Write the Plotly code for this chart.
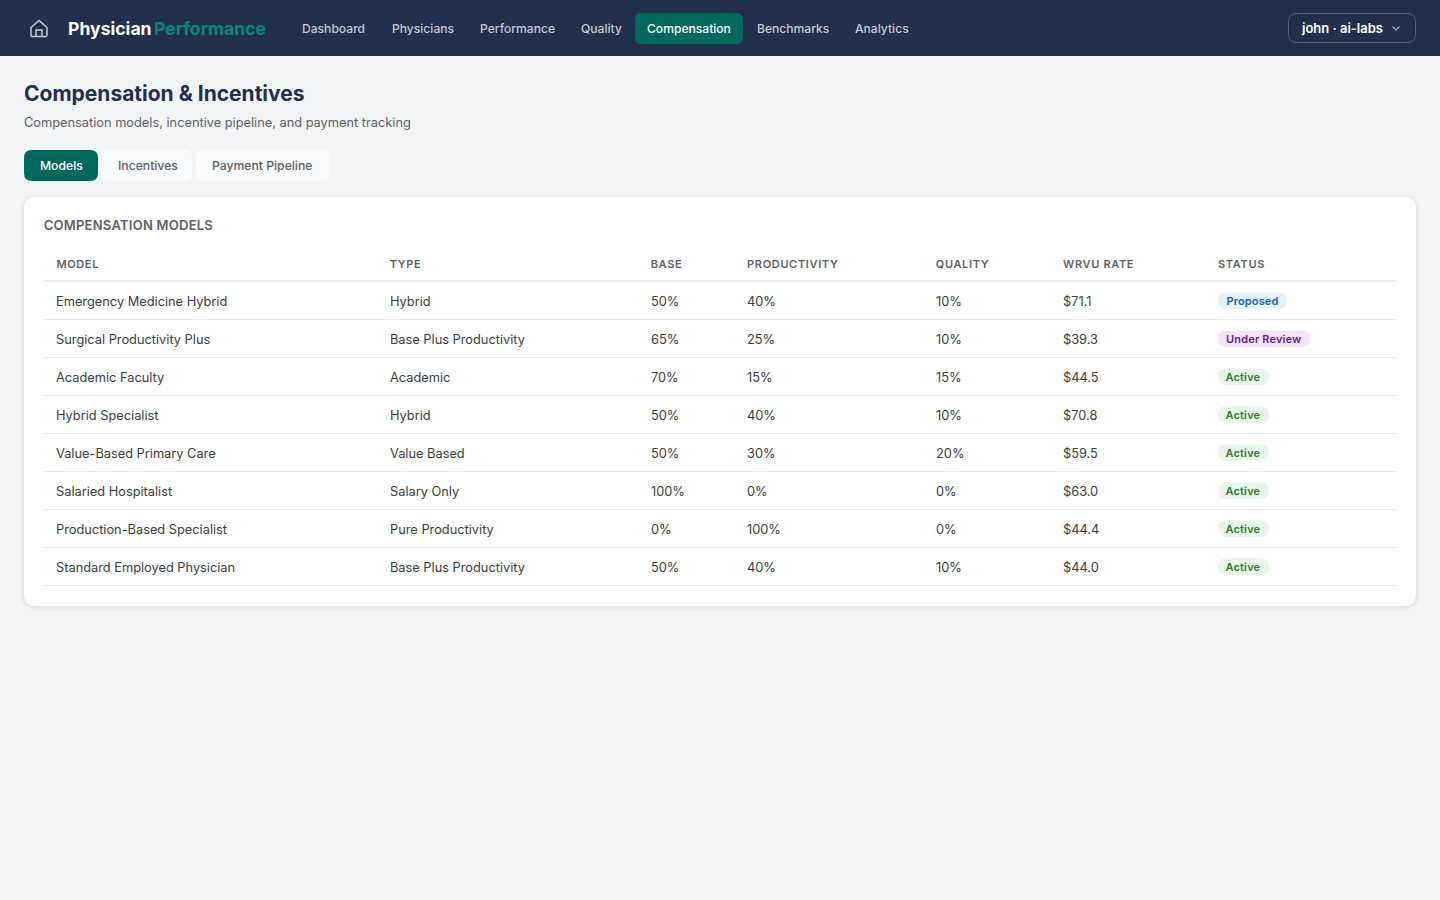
import json
import plotly.graph_objects as go

nav_items = ["Dashboard", "Physicians", "Performance", "Quality", "Compensation", "Benchmarks", "Analytics"]
nav_x = [302, 392, 480, 581, 647, 757, 855]
tabs = ["Models", "Incentives", "Payment Pipeline"]
headers = ["MODEL", "TYPE", "BASE", "PRODUCTIVITY", "QUALITY", "WRVU RATE", "STATUS"]
col_x = [56, 390, 651, 747, 936, 1063, 1218]
models = ["Emergency Medicine Hybrid", "Surgical Productivity Plus", "Academic Faculty", "Hybrid Specialist",
          "Value-Based Primary Care", "Salaried Hospitalist", "Production-Based Specialist", "Standard Employed Physician"]
types = ["Hybrid", "Base Plus Productivity", "Academic", "Hybrid", "Value Based", "Salary Only",
         "Pure Productivity", "Base Plus Productivity"]
base = [50, 65, 70, 50, 50, 100, 0, 50]
productivity = [40, 25, 15, 40, 30, 0, 100, 40]
quality = [10, 10, 15, 10, 20, 0, 0, 10]
wrvu = [71.1, 39.3, 44.5, 70.8, 59.5, 63.0, 44.4, 44.0]
status = ["Proposed", "Under Review", "Active", "Active", "Active", "Active", "Active", "Active"]
status_style = {"Proposed": ("#e3f2fd", "#1565c0", 69), "Under Review": ("#f3e5f5", "#6a1b9a", 92),
                "Active": ("#e8f5e9", "#2e7d32", 51)}

FONT = "Inter"
shapes, ann = [], []
spacing = {}


def rrect(x0, y0, x1, y1, r, fill, line=None, lw=1):
    path = (f"M{x0+r},{y0} L{x1-r},{y0} Q{x1},{y0} {x1},{y0+r} L{x1},{y1-r} Q{x1},{y1} {x1-r},{y1} "
            f"L{x0+r},{y1} Q{x0},{y1} {x0},{y1-r} L{x0},{y0+r} Q{x0},{y0} {x0+r},{y0} Z")
    shapes.append(dict(type="path", path=path, xref="x", yref="y", fillcolor=fill,
                       line=dict(color=line or "rgba(0,0,0,0)", width=lw if line else 0), layer="below"))


def rect(x0, y0, x1, y1, fill):
    shapes.append(dict(type="rect", x0=x0, y0=y0, x1=x1, y1=y1, xref="x", yref="y", fillcolor=fill,
                       line=dict(width=0), layer="below"))


def text(x, y, s, size, color, weight=400, ls=0):
    if ls:
        spacing[s] = ls
    ann.append(dict(x=x + len(s) * ls / 2, y=y, text=s, xref="x", yref="y", xanchor="left", yanchor="middle",
                    showarrow=False, font=dict(family=FONT, size=size, color=color, weight=weight),
                    borderpad=0, borderwidth=0))


# top bar
rect(0, 0, 1440, 56, "#232f4f")
shapes.append(dict(type="path", xref="x", yref="y", layer="above", fillcolor="rgba(0,0,0,0)",
                   line=dict(color="#c6cbd6", width=1.5),
                   path="M31,27.5 L39,20.5 L47,27.5 L47,35 Q47,36.5 45.5,36.5 L32.5,36.5 Q31,36.5 31,35 Z"))
shapes.append(dict(type="path", xref="x", yref="y", layer="above", fillcolor="rgba(0,0,0,0)",
                   line=dict(color="#c6cbd6", width=1.5), path="M36,36.5 L36,30 L42,30 L42,36.5"))
text(68, 28, "Physician", 17.6, "#ffffff", 700)
text(154, 28, "Performance", 17.6, "#00897b", 700)
rrect(635, 13, 743, 44, 6, "#00695c")
for n, x in zip(nav_items, nav_x):
    active = n == "Compensation"
    text(x, 28, n, 12.1, "#ffffff" if active else "#c3c7d0", 500)
rrect(1288.5, 13.5, 1415.5, 42.5, 8, "rgba(0,0,0,0)", "#5a6478", 1)
text(1301, 28, "john · ai-labs", 13, "#ffffff", 600)
shapes.append(dict(type="path", xref="x", yref="y", layer="above", fillcolor="rgba(0,0,0,0)",
                   line=dict(color="#aeb3bf", width=1.2), path="M1392.5,26.5 L1396,30 L1399.5,26.5"))

# heading
text(24, 93, "Compensation & Incentives", 21, "#232f4f", 700)
text(24, 122, "Compensation models, incentive pipeline, and payment tracking", 12.8, "#5f6368")

# tabs
tab_box = [(24, 98), (102, 192), (196, 330)]
tab_text_x = [40, 118, 212]
for i, (t, (a, b), tx) in enumerate(zip(tabs, tab_box, tab_text_x)):
    rrect(a, 150, b, 181, 8, "#00695c" if i == 0 else "#f8f9fa")
    text(tx, 165, t, 12.2, "#ffffff" if i == 0 else "#5f6368", 500)

# card with soft shadow
for g, op in [(4, .008), (3, .012), (2, .016), (1, .02)]:
    rrect(24 - g, 197 - g + 1, 1416 + g, 606 + g + 1, 12 + g, f"rgba(0,0,0,{op})")
rrect(24, 197, 1416, 606, 12, "#ffffff")
text(44, 225, "COMPENSATION MODELS", 13, "#5f6368", 600, ls=0.25)

for h, x in zip(headers, col_x):
    text(x, 264, h, 11, "#5f6368", 600, ls=0.65)
rect(44, 280, 1396, 282, "#e8eaed")

row_h = 38
for i in range(len(models)):
    y = 301 + i * row_h
    rect(44, y + 18, 1396, y + 19, "#e8eaed")
    row = [models[i], types[i], f"{base[i]}%", f"{productivity[i]}%", f"{quality[i]}%", f"${wrvu[i]:.1f}"]
    for s, x in zip(row, col_x):
        text(x, y, s, 12.8, "#3c4043")
    bg, fg, w = status_style[status[i]]
    rrect(1218, y - 8.5, 1218 + w, y + 8, 8.25, bg)
    text(1226, y, status[i], 11, fg, 600, ls=0.15)

fig = go.Figure()
fig.update_layout(
    width=1440, height=900, margin=dict(l=0, r=0, t=0, b=0), autosize=False,
    paper_bgcolor="#f1f3f5", plot_bgcolor="#f1f3f5", showlegend=False,
    xaxis=dict(range=[0, 1440], visible=False, fixedrange=True),
    yaxis=dict(range=[900, 0], visible=False, fixedrange=True),
    shapes=shapes, annotations=ann,
)
post = ("document.body.style.margin='0';document.body.style.overflow='hidden';"
        "var sp=" + json.dumps(spacing) + ";"
        "document.querySelectorAll('.annotation-text').forEach(function(t){"
        "var v=sp[t.textContent];if(v){t.style.letterSpacing=v+'px';}});")
fig.write_html("out.html", config={"displayModeBar": False}, post_script=post)
